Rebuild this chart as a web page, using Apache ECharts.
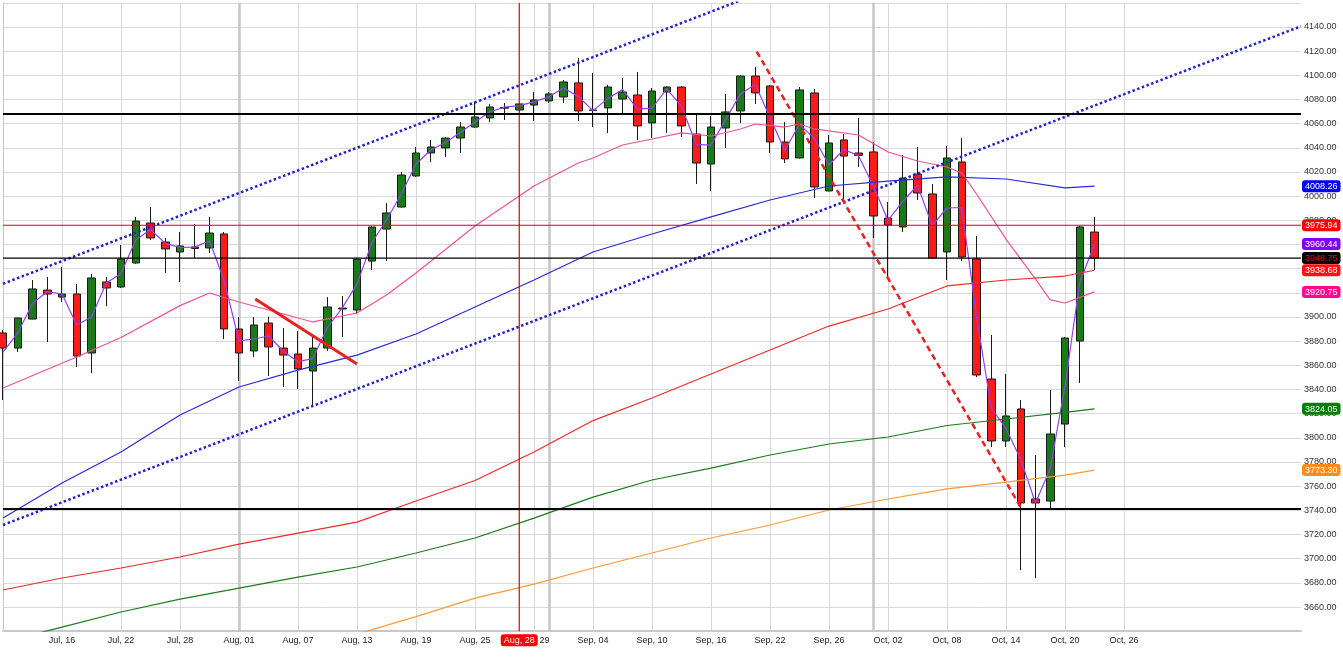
<!DOCTYPE html>
<html>
<head>
<meta charset="utf-8">
<script src="https://cdn.jsdelivr.net/npm/echarts@6.0.0/dist/echarts.min.js"></script>
<style>
  html, body { margin: 0; padding: 0; background: #fff; }
  #chart { width: 1343px; height: 662px; }
</style>
</head>
<body>
<div id="chart"></div>
<script>
const FONT = '"Liberation Sans", Arial, sans-serif';

// trading days shown (index 0 .. 74)
const dates = ['Jul, 10','Jul, 11','Jul, 14','Jul, 15','Jul, 16','Jul, 17','Jul, 18','Jul, 21','Jul, 22','Jul, 23',
  'Jul, 24','Jul, 25','Jul, 28','Jul, 29','Jul, 30','Jul, 31','Aug, 01','Aug, 04','Aug, 05','Aug, 06',
  'Aug, 07','Aug, 08','Aug, 11','Aug, 12','Aug, 13','Aug, 14','Aug, 15','Aug, 18','Aug, 19','Aug, 20',
  'Aug, 21','Aug, 22','Aug, 25','Aug, 26','Aug, 27','Aug, 28','Aug, 29','Sep, 01','Sep, 02','Sep, 03',
  'Sep, 04','Sep, 05','Sep, 08','Sep, 09','Sep, 10','Sep, 11','Sep, 12','Sep, 15','Sep, 16','Sep, 17',
  'Sep, 18','Sep, 19','Sep, 22','Sep, 23','Sep, 24','Sep, 25','Sep, 26','Sep, 29','Sep, 30','Oct, 01',
  'Oct, 02','Oct, 03','Oct, 06','Oct, 07','Oct, 08','Oct, 09','Oct, 10','Oct, 13','Oct, 14','Oct, 15',
  'Oct, 16','Oct, 17','Oct, 20','Oct, 21','Oct, 22'];
// empty slots to the right of the last candle
const futureDates = ['Oct, 23','Oct, 26','Oct, 27','Oct, 28','Oct, 29','Oct, 30','Oct, 31',
  'Nov, 03','Nov, 04','Nov, 05','Nov, 06','Nov, 07','Nov, 10','Nov, 11'];

// [open, close, low, high]
const ohlc = [
  [3886.8,3874.3,3831.3,3889.2],[3874.3,3899.2,3871.0,3899.5],[3898.3,3923.2,3898.0,3930.6],[3922.3,3919.0,3879.3,3933.1],
  [3916.5,3919.0,3912.4,3941.4],[3919.0,3867.7,3858.6,3927.3],[3870.2,3932.3,3853.7,3935.6],[3929.0,3924.0,3909.1,3933.1],
  [3924.8,3948.0,3924.0,3959.6],[3944.7,3979.4,3944.0,3982.8],[3977.8,3965.4,3963.7,3991.0],[3962.1,3956.3,3936.4,3965.4],
  [3953.8,3958.8,3929.0,3970.3],[3957.9,3956.7,3948.8,3977.0],[3957.1,3969.5,3953.0,3982.8],[3968.7,3890.1,3881.8,3970.3],
  [3890.1,3870.2,3847.0,3900.0],[3871.9,3893.4,3866.9,3900.0],[3895.0,3875.2,3851.2,3900.3],[3874.3,3868.5,3842.1,3890.9],
  [3869.4,3857.0,3840.4,3888.4],[3855.3,3874.3,3825.5,3885.1],[3874.3,3908.3,3872.0,3916.5],[3907.4,3906.6,3883.4,3917.4],
  [3905.8,3947.8,3902.5,3949.0],[3946.3,3974.5,3938.9,3975.3],[3972.8,3986.1,3946.3,3994.3],[3991.0,4017.5,3990.5,4020.0],
  [4016.7,4035.7,4015.9,4040.7],[4035.7,4040.7,4028.3,4046.5],[4039.9,4048.1,4032.4,4049.0],[4048.1,4057.2,4035.7,4061.4],
  [4057.2,4065.5,4056.5,4077.9],[4064.7,4073.8,4061.4,4076.3],[4072.8,4073.4,4063.0,4077.1],[4071.3,4076.3,4069.7,4077.1],
  [4075.4,4079.6,4062.2,4086.2],[4078.8,4084.6,4077.1,4086.2],[4082.1,4094.5,4077.1,4096.1],[4093.7,4070.5,4062.2,4114.3],
  [4071.3,4071.0,4057.2,4101.9],[4073.0,4090.3,4052.3,4092.0],[4080.4,4086.2,4068.8,4097.8],[4083.7,4058.1,4046.5,4102.8],
  [4060.6,4087.0,4048.1,4089.5],[4086.2,4090.3,4052.3,4090.8],[4090.3,4058.1,4049.0,4091.0],[4051.4,4027.4,4010.1,4067.2],
  [4026.6,4057.2,4004.3,4066.3],[4056.4,4069.7,4039.9,4084.6],[4070.5,4099.4,4060.6,4100.3],[4099.4,4085.4,4076.3,4106.9],
  [4091.2,4044.8,4035.7,4092.0],[4044.8,4030.8,4027.4,4061.4],[4031.6,4087.9,4031.2,4090.3],[4085.4,4007.6,3998.5,4088.7],
  [4004.3,4044.0,4004.0,4050.6],[4046.5,4033.2,3996.8,4051.4],[4035.7,4033.7,4024.1,4064.7],[4036.6,3983.6,3965.4,4044.8],
  [3981.9,3976.1,3932.3,3995.2],[3974.5,4015.0,3970.3,4034.1],[4018.3,4002.6,3996.8,4040.7],[4001.8,3948.8,3948.5,4010.1],
  [3953.8,4031.6,3930.6,4041.5],[4028.3,3949.6,3946.3,4048.1],[3948.0,3852.0,3850.3,3967.1],[3848.7,3797.4,3792.4,3885.1],
  [3797.4,3818.1,3792.4,3852.8],[3823.9,3746.1,3690.6,3831.3],[3749.4,3746.1,3684.0,3785.8],[3747.7,3803.2,3741.9,3839.6],
  [3811.4,3882.6,3792.4,3883.4],[3880.1,3974.5,3845.4,3975.3],[3970.3,3948.75,3938.9,3982.8]
];

// short (purple) average, one value per candle
const purpleMA = [3871.0,3886.8,3911.2,3921.1,3919.0,3893.4,3900.0,3928.2,3936.0,3963.7,
  3972.4,3960.9,3957.6,3957.8,3963.1,3929.8,3880.2,3881.8,3884.3,3871.9,
  3862.8,3865.7,3891.3,3907.5,3927.2,3961.2,3980.3,4001.8,4026.6,4038.2,
  4044.4,4052.7,4061.4,4069.7,4073.6,4074.9,4078.0,4082.1,4089.6,4082.5,
  4070.8,4080.7,4088.3,4072.2,4072.6,4088.7,4074.2,4042.8,4042.3,4063.5,
  4084.6,4092.4,4065.1,4037.8,4059.4,4047.8,4025.8,4038.6,4033.5,4008.7,
  3979.9,3995.6,4008.8,3975.7,3990.2,3990.6,3900.8,3824.7,3807.8,3782.1,
  3746.1,3774.7,3842.9,3928.6,3960.44];

// longer averages read at these candle indices
const maIdx = [0,4,8,12,16,20,24,28,32,36,40,44,48,52,56,60,64,68,72,74];
const blueMA = [3733.6,3762.6,3788.3,3818.9,3842.1,3856.1,3868.5,3885.9,3908.3,3930.6,3953.8,3968.7,3982.8,3996.8,4008.4,4012.5,4015.9,4014.2,4006.8,4008.26];
const redMA = [3674.1,3684.0,3692.3,3701.4,3712.1,3721.2,3730.3,3747.7,3764.7,3788.3,3814.3,3833.0,3852.8,3872.7,3892.5,3906.6,3925.7,3930.6,3933.9,3938.68];
const greenMA = [3631.0,3643.4,3655.9,3666.6,3675.7,3684.8,3693.1,3704.7,3717.1,3733.6,3751.0,3765.1,3775.0,3785.8,3794.9,3800.7,3810.2,3815.6,3821.0,3824.05];
const orangeIdx = [20,24,28,32,36,40,44,48,52,56,60,64,68,72,74];
const orangeMA = [3622.7,3637.6,3652.1,3667.4,3679.0,3692.3,3704.7,3717.1,3727.9,3740.3,3749.4,3757.7,3763.4,3769.2,3773.30];
const pinkIdx = [0,5,8,12,14,16,20,21,24,26,28,32,36,39,40,42,44,46,48,50,51,53,54,55,58,60,62,64,65,66,68,70,71,72,74];
const pinkMA = [3841.2,3866.9,3883.0,3909.4,3919.9,3912.4,3899.2,3895.9,3903.3,3918.2,
  3936.4,3975.3,4008.4,4027.4,4031.6,4042.3,4047.3,4052.3,4049.8,4055.6,
  4059.7,4057.2,4059.7,4055.6,4050.6,4036.5,4029.1,4024.1,4019.2,4001.8,
  3964.5,3931.4,3914.1,3911.6,3920.75];

// drawn trend lines: [candle index, price]
const channelUpper = [[0, 3927.5], [50, 4162.0]];
const channelLower = [[0, 3727.9], [88, 4140.6]];
const redTrend = [[17.1, 3914.9], [24.0, 3861.1]];
const redDashTrend = [[51.1, 4119.6], [69.1, 3740.3]];
const levelLines = [4068.5, 3741.0];
const monthStarts = [16, 37, 59];

// crosshair and right-hand price tags
const crossIndex = 35;
const crossValue = 3975.94;
const lastClose = 3948.75;
const tagValues = [4008.26, 3960.44, 3948.75, 3938.68, 3920.75, 3824.05, 3773.30];
const tagColors = ['#0000ff', '#8000ff', '#000000', '#ff1010', '#ff0a8c', '#008000', '#ff8c1a'];

const allDates = dates.concat(futureDates);
const lastSlot = allDates.length - 1;
const pairs = (idx, vals) => idx.map((x, k) => [x, vals[k]]);
const tickAt = (i) => i % 4 === 0 && i <= 76;

const yMin = 3640, yMax = 4160;
const yRange = { type: 'value', position: 'right', min: yMin, max: yMax, interval: 20 };
const tagLabel = { fontFamily: FONT, fontSize: 9, padding: [2, 3, 1, 3], margin: 1 };

// one bare y axis per tag, only its pointer label is visible
const tagAxes = tagValues.map((v, k) => ({
  ...yRange,
  axisLine: { show: false }, axisTick: { show: false },
  axisLabel: { show: false }, splitLine: { show: false },
  axisPointer: {
    show: true, status: 'show', value: v, triggerTooltip: false, type: 'none',
    label: { show: true, ...tagLabel, backgroundColor: tagColors[k],
      color: v === lastClose ? '#e01010' : '#fff',
      formatter: (p) => Number(p.value).toFixed(2) }
  }
}));

function lineSeries(data, color, width, type, extra) {
  return Object.assign({
    type: 'line', xAxisIndex: 1, yAxisIndex: 0, data: data,
    symbol: 'none', silent: true, z: 3,
    lineStyle: { color: color, width: width, type: type || 'solid' }
  }, extra || {});
}

const chart = echarts.init(document.getElementById('chart'));
chart.setOption({
  animation: false,
  backgroundColor: '#fff',
  grid: { left: 3, right: 42, top: 2.8, bottom: 30.8, outerBoundsMode: 'none' },
  xAxis: [
    {
      type: 'category', data: allDates, boundaryGap: false,
      axisLine: { lineStyle: { color: '#c8c8c8', width: 2 } },
      axisTick: { show: false },
      axisLabel: { interval: (i) => tickAt(i) && i > 0, color: '#222', fontFamily: FONT, fontSize: 9, margin: 5 },
      splitLine: { show: true, interval: (i) => tickAt(i), lineStyle: { color: '#d9d9d9', width: 1 } },
      axisPointer: {
        show: true, status: 'show', value: crossIndex, type: 'none', snap: false, triggerTooltip: false,
        label: { show: true, backgroundColor: '#ff0000', color: '#fff', fontFamily: FONT, fontSize: 9, padding: [2, 3, 1, 3], margin: 3 }
      }
    },
    { type: 'value', min: 0, max: lastSlot, show: false }
  ],
  yAxis: [
    {
      ...yRange,
      axisLine: { show: true, lineStyle: { color: '#c8c8c8' } },
      axisTick: { show: false },
      axisLabel: { color: '#333', fontFamily: FONT, fontSize: 9, margin: 3,
        showMinLabel: false, showMaxLabel: false, formatter: (v) => v.toFixed(2) },
      splitLine: { lineStyle: { color: '#d9d9d9' } },
      axisPointer: {
        show: true, status: 'show', value: crossValue, type: 'none', triggerTooltip: false,
        label: { show: true, ...tagLabel, backgroundColor: '#ff0000', color: '#fff',
          formatter: (p) => Number(p.value).toFixed(2) }
      }
    },
    ...tagAxes
  ],
  series: [
    {
      type: 'candlestick', xAxisIndex: 0, yAxisIndex: 0, data: ohlc,
      barWidth: 8, silent: true, z: 2,
      itemStyle: { color: '#1a7a1a', color0: '#ff1a1a', borderColor: '#1a1a1a', borderColor0: '#1a1a1a', borderWidth: 1 },
      markLine: {
        silent: true, symbol: 'none', label: { show: false },
        lineStyle: { color: '#000', width: 2, type: 'solid' },
        data: levelLines.map(v => ({ yAxis: v }))
      }
    },
    lineSeries(pairs(dates.map((d, i) => i), purpleMA), '#9440ee', 1.2, 'solid', {
      markLine: {
        silent: true, symbol: 'none', z: 1, label: { show: false },
        lineStyle: { color: '#c6c6c6', width: 2.5, type: 'solid' },
        data: monthStarts.map(i => ({ xAxis: i }))
      }
    }),
    lineSeries(pairs(pinkIdx, pinkMA), '#f0509a', 1.2),
    lineSeries(pairs(maIdx, blueMA), '#2a2ad8', 1.2),
    lineSeries(pairs(maIdx, redMA), '#ee2a2a', 1.2),
    lineSeries(pairs(maIdx, greenMA), '#1f7a1f', 1.2),
    lineSeries(pairs(orangeIdx, orangeMA), '#ff9a33', 1.2),
    lineSeries(channelUpper, '#2222cc', 2.5, [2.5, 2.5]),
    lineSeries(channelLower, '#2222cc', 2.5, [2.5, 2.5]),
    lineSeries(redTrend, '#e82020', 3),
    lineSeries(redDashTrend, '#e82020', 2.5, [6, 4]),
    // last close level and crosshair
    lineSeries([[0, lastClose], [lastSlot, lastClose]], '#000000', 1.4, 'solid', { z: 4 }),
    lineSeries([[0, crossValue], [lastSlot, crossValue]], '#e00000', 1.2, 'solid', { z: 4 }),
    lineSeries([[crossIndex, yMin], [crossIndex, yMax]], '#e00000', 1.2, 'solid', { z: 4 })
  ]
});
</script>
</body>
</html>
